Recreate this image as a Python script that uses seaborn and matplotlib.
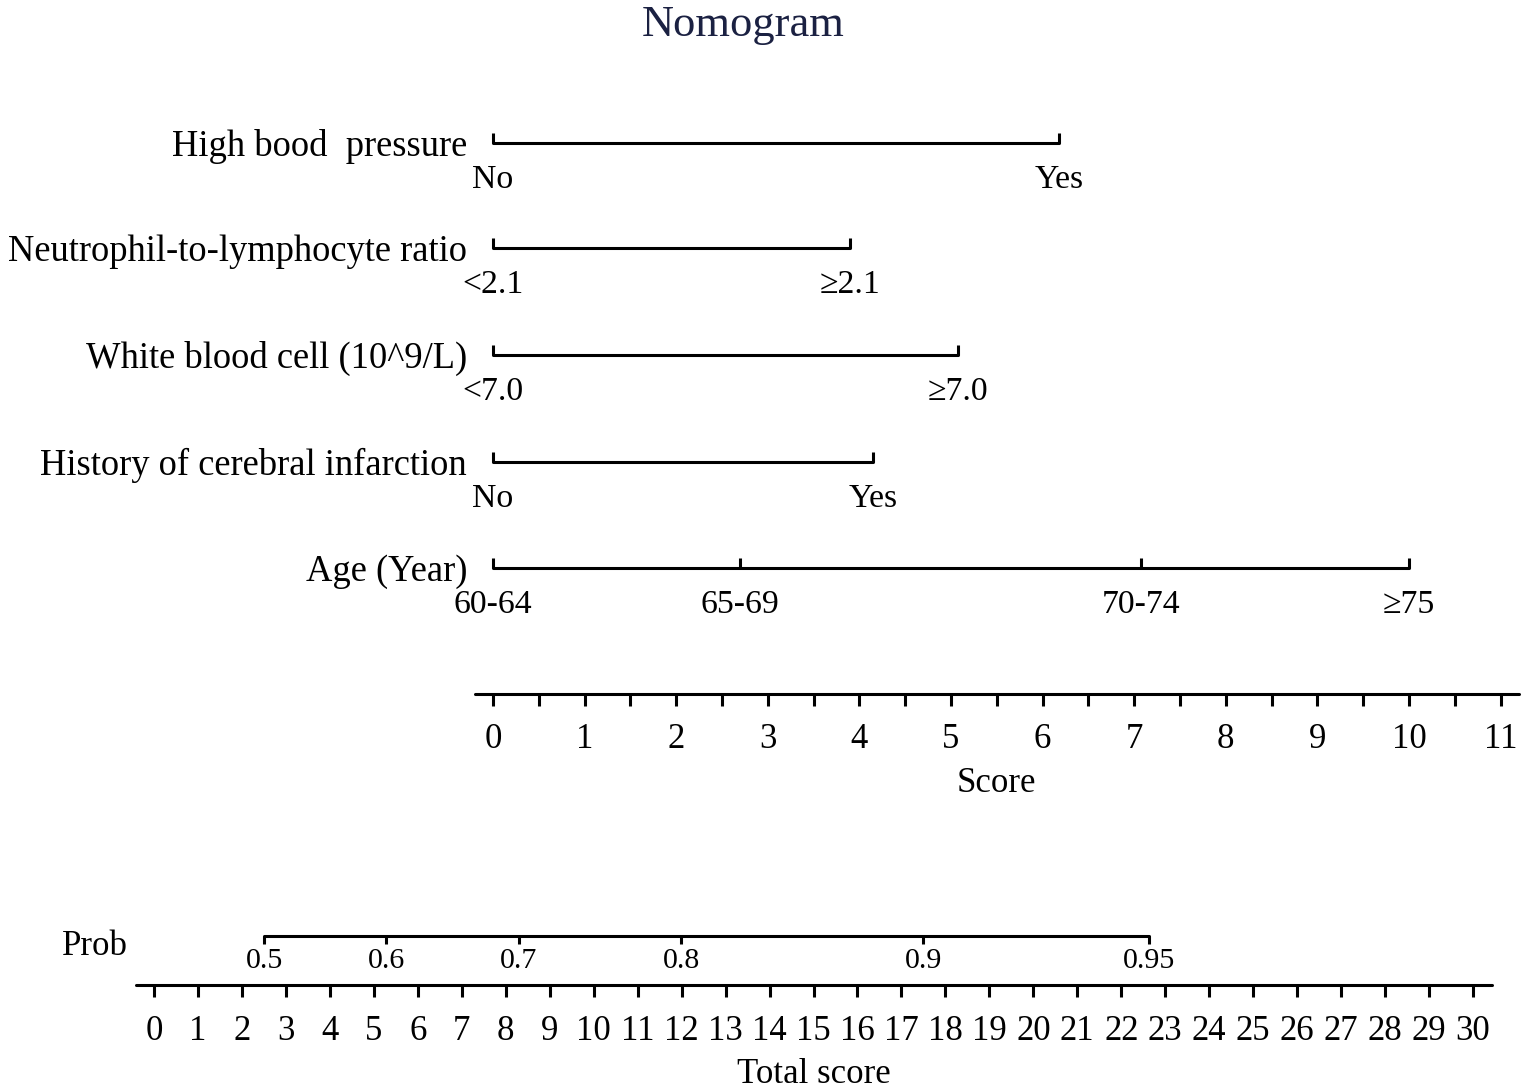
import matplotlib
matplotlib.use("Agg")
import matplotlib.pyplot as plt
import seaborn as sns
import numpy as np

# ---------------- data ----------------
variables = ["High bood  pressure", "Neutrophil-to-lymphocyte ratio",
             "White blood cell (10^9/L)", "History of cerebral infarction", "Age (Year)"]
hbp_levels = ["No", "Yes"]
hbp_points = [0.0, 6.18]
nlr_levels = ["<2.1", "≥2.1"]
nlr_points = [0.0, 3.90]
wbc_levels = ["<7.0", "≥7.0"]
wbc_points = [0.0, 5.08]
hci_levels = ["No", "Yes"]
hci_points = [0.0, 4.15]
age_levels = ["60-64", "65-69", "70-74", "≥75"]
age_points = [0.0, 2.70, 7.07, 10.0]

score_ticks = list(range(0, 12))
score_minor = [i + 0.5 for i in range(0, 11)]
total_ticks = list(range(0, 31))
prob_labels = ["0.5", "0.6", "0.7", "0.8", "0.9", "0.95"]
prob_points = [2.51, 5.28, 8.30, 11.99, 17.50, 22.62]

# ---------------- layout ----------------
W, H, DPI = 1524, 1092, 100
sns.set_theme(style="white")
plt.rcParams["font.family"] = ["Liberation Serif", "DejaVu Serif"]
plt.rcParams["text.color"] = "black"

fig = plt.figure(figsize=(W / DPI, H / DPI), dpi=DPI)
fig.patch.set_facecolor("white")

px_score0, px_per_score = 493.0, 91.6
px_total0, px_per_total = 154.0, 43.967

ax1 = fig.add_axes([0, 0, 1, 1])
ax1.set_xlim(-px_score0 / px_per_score, (W - px_score0) / px_per_score)
ax1.set_ylim(H, 0)
ax1.axis("off")

ax2 = fig.add_axes([0, 0, 1, 1])
ax2.set_xlim(-px_total0 / px_per_total, (W - px_total0) / px_per_total)
ax2.set_ylim(H, 0)
ax2.axis("off")
ax2.patch.set_alpha(0)

LW = 2.2
lab_fs = 26.3
val_fs = 24.3
tick_fs = 25

fig.text(743 / W, 1 - 36 / H, "Nomogram", ha="center", va="baseline",
         fontsize=32, color="#1b2142")

rows = [
    (variables[0], hbp_levels, hbp_points, 143),
    (variables[1], nlr_levels, nlr_points, 248),
    (variables[2], wbc_levels, wbc_points, 355),
    (variables[3], hci_levels, hci_points, 462),
    (variables[4], age_levels, age_points, 568),
]
lab_x = -(493 - 467) / px_per_score
for name, levels, pts, y in rows:
    sns.lineplot(x=[min(pts), max(pts)], y=[y, y], ax=ax1, color="black",
                 lw=LW, estimator=None, sort=False, legend=False)
    for lv, p in zip(levels, pts):
        ax1.plot([p, p], [y, y - 10], color="black", lw=LW, solid_capstyle="butt")
        ax1.text(p, y + 45, lv, ha="center", va="baseline", fontsize=val_fs)
    ax1.text(lab_x, y + 13, name, ha="right", va="baseline", fontsize=lab_fs)

# score axis
ys = 694
sns.lineplot(x=[-0.2, 11.2], y=[ys, ys], ax=ax1, color="black", lw=LW,
             estimator=None, sort=False, legend=False)
for t in score_ticks + score_minor:
    ax1.plot([t, t], [ys, ys + 12], color="black", lw=LW, solid_capstyle="butt")
for t in score_ticks:
    ax1.text(t, ys + 54, str(t), ha="center", va="baseline", fontsize=tick_fs)
ax1.text(5.5, 792, "Score", ha="center", va="baseline", fontsize=tick_fs)

# prob axis
yp = 936
sns.lineplot(x=[prob_points[0], prob_points[-1]], y=[yp, yp], ax=ax2, color="black",
             lw=LW, estimator=None, sort=False, legend=False)
for lb, p in zip(prob_labels, prob_points):
    ax2.plot([p, p], [yp, yp + 8], color="black", lw=LW, solid_capstyle="butt")
    ax2.text(p, yp + 32, lb, ha="center", va="baseline", fontsize=21.5)
ax2.text((95 - px_total0) / px_per_total, 955, "Prob", ha="center", va="baseline",
         fontsize=tick_fs)

# total score axis
yt = 985
sns.lineplot(x=[-0.41, 30.43], y=[yt, yt], ax=ax2, color="black", lw=LW,
             estimator=None, sort=False, legend=False)
for t in total_ticks:
    ax2.plot([t, t], [yt, yt + 12], color="black", lw=LW, solid_capstyle="butt")
    ax2.text(t, yt + 55, str(t), ha="center", va="baseline", fontsize=tick_fs)
ax2.text(15, 1083, "Total score", ha="center", va="baseline", fontsize=tick_fs)

fig.savefig("out.png", dpi=DPI, facecolor="white")
